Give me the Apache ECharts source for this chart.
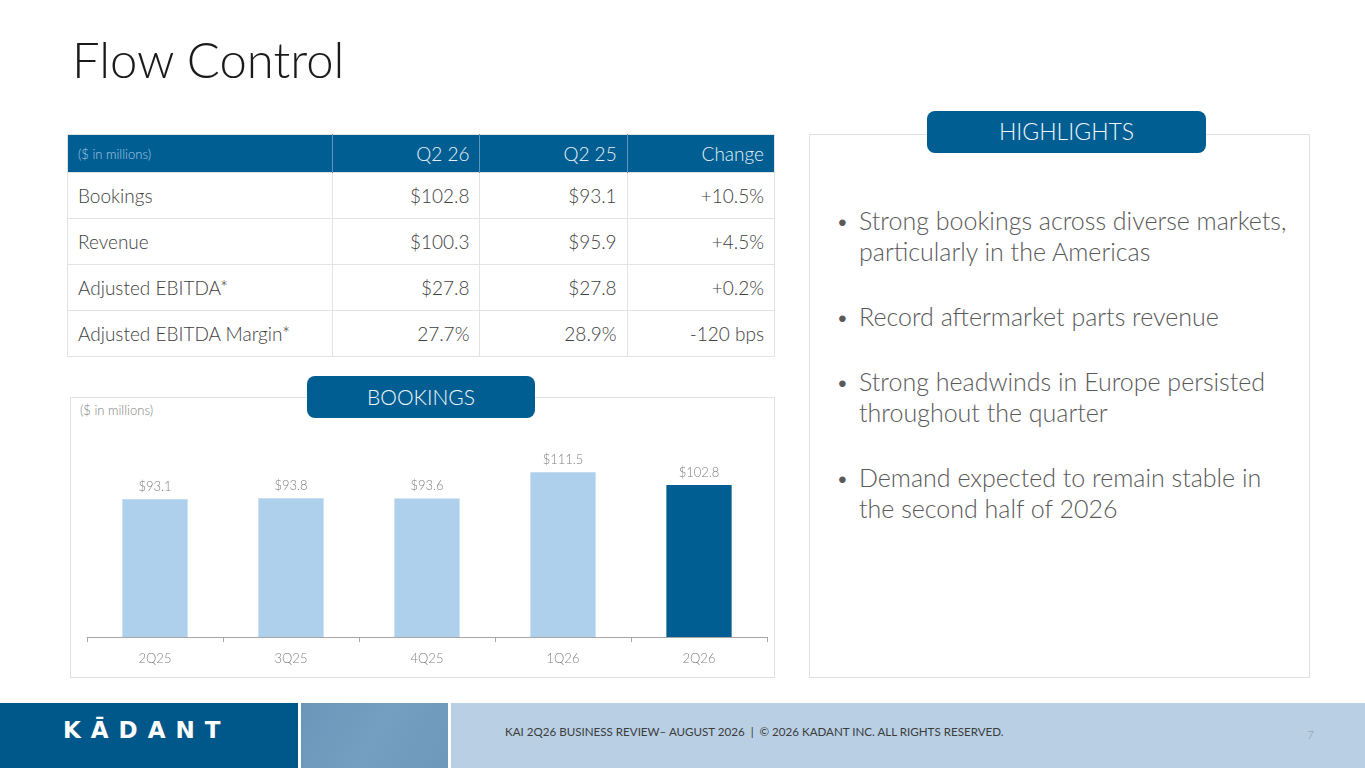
<!DOCTYPE html>
<html>
<head>
<meta charset="utf-8">
<title>Flow Control</title>
<script src="https://cdn.jsdelivr.net/npm/echarts@6/dist/echarts.min.js"></script>
<style>
    html, body { margin: 0; padding: 0; }
    body { width: 1365px; height: 768px; position: relative; overflow: hidden; background: #fff;
           font-family: "Lato", "Open Sans", sans-serif; font-weight: 300; color: #404040; }
    .title { position: absolute; left: 72px; top: 30px; font-size: 49px; font-weight: 300; color: #1a1a1a; }
    /* 财务表 */
    table.fin { position: absolute; left: 67px; top: 134px; width: 708px; border-collapse: collapse; border: 1px solid #e3e3e3; }
    table.fin th { background: #005e92; color: #e8f0f7; font-weight: 300; font-size: 19px; height: 37px; padding: 0 10px; text-align: right; border-left: 1px solid #5b93b9; }
    table.fin th:first-child { text-align: left; font-size: 13px; color: #a9cbe6; border-left: none; }
    table.fin td { font-size: 19px; height: 45px; padding: 0 10px; text-align: right; border-top: 1px solid #e3e3e3; border-left: 1px solid #e3e3e3; color: #404040; }
    table.fin td:first-child { text-align: left; border-left: none; }
    .box { position: absolute; border: 1px solid #e0e0e0; box-sizing: border-box; }
    .tab { position: absolute; background: #005e92; color: #f2f6fa; border-radius: 8px; text-align: center; font-size: 21px; }
    .note { position: absolute; font-size: 13px; color: #7f7f7f; }
    ul.hl { position: absolute; left: 836px; top: 205px; width: 470px; margin: 0; padding: 0; list-style: none; }
    ul.hl li { position: relative; padding-left: 23px; font-size: 25px; line-height: 31px; color: #595959; margin-bottom: 34px; white-space: nowrap; }
    ul.hl li:before { content: "\2022"; position: absolute; left: 0; top: 0; color: #595959; font-size: 22px; }
    .foot { position: absolute; top: 703px; height: 65px; }
</style>
</head>
<body>
<div class="title">Flow Control</div>

<table class="fin" id="finTable"></table>

<div class="box" style="left:70px; top:397px; width:705px; height:281px;"></div>
<div class="note" style="left:80px; top:402px;">($ in millions)</div>
<div id="chart" style="position:absolute; left:70px; top:397px; width:705px; height:281px;"></div>
<div class="tab" style="left:307px; top:376px; width:228px; height:42px; line-height:42px;">BOOKINGS</div>

<div class="box" style="left:809px; top:134px; width:501px; height:544px;"></div>
<div class="tab" style="left:927px; top:111px; width:279px; height:42px; line-height:40px; font-size:23px;">HIGHLIGHTS</div>
<ul class="hl" id="highlights"></ul>

<div class="foot" style="left:0; width:298px; background:#00578a;">
    <div style="position:absolute; left:63px; top:14px; color:#fff; font-family:'DejaVu Sans', sans-serif; font-weight:bold; font-size:23px; letter-spacing:10px;">KĀDANT</div>
</div>
<div class="foot" style="left:301px; width:147px; background:linear-gradient(120deg, #6b96b9 0%, #749fc0 50%, #6d98ba 100%);"></div>
<div class="foot" style="left:451px; width:914px; background:#b8cfe4;">
    <div style="position:absolute; left:54px; top:22px; font-size:11.6px; font-weight:400; color:#3c3c3c;">KAI 2Q26 BUSINESS REVIEW– AUGUST 2026 &nbsp;| &nbsp;© 2026 KADANT INC. ALL RIGHTS RESERVED.</div>
    <div style="position:absolute; left:856px; top:24px; font-size:12px; color:#8a9bab;">7</div>
</div>

<script>
// 表格数据
var tableHeader = ['($ in millions)', 'Q2 26', 'Q2 25', 'Change'];
var rowLabels = ['Bookings', 'Revenue', 'Adjusted EBITDA*', 'Adjusted EBITDA Margin*'];
var q226 = ['$102.8', '$100.3', '$27.8', '27.7%'];
var q225 = ['$93.1', '$95.9', '$27.8', '28.9%'];
var changes = ['+10.5%', '+4.5%', '+0.2%', '-120 bps'];

// 柱状图数据
var quarters = ['2Q25', '3Q25', '4Q25', '1Q26', '2Q26'];
var bookings = [93.1, 93.8, 93.6, 111.5, 102.8];

// 要点（按原图换行）
var highlights = [
    ['Strong bookings across diverse markets,', 'particularly in the Americas'],
    ['Record aftermarket parts revenue'],
    ['Strong headwinds in Europe persisted', 'throughout the quarter'],
    ['Demand expected to remain stable in', 'the second half of 2026']
];

// 生成表格
var html = [];
html.push('<tr>');
for (var i = 0; i < tableHeader.length; i++) {
    html.push('<th style="width:' + (i == 0 ? 246 : 127) + 'px">' + tableHeader[i] + '</th>');
}
html.push('</tr>');
for (var r = 0; r < rowLabels.length; r++) {
    html.push('<tr><td>' + rowLabels[r] + '</td><td>' + q226[r] + '</td><td>' + q225[r] + '</td><td>' + changes[r] + '</td></tr>');
}
document.getElementById('finTable').innerHTML = html.join('');

var li = [];
for (var h = 0; h < highlights.length; h++) {
    li.push('<li>' + highlights[h].join('<br>') + '</li>');
}
document.getElementById('highlights').innerHTML = li.join('');

var myChart = echarts.init(document.getElementById('chart'));
var option = {
    animation: false,
    grid: { left: 17, right: 8, top: 33, bottom: 41 },
    xAxis: {
        type: 'category',
        data: quarters,
        axisLine: { lineStyle: { color: '#a6a6a6', width: 1 } },
        axisTick: { show: true, length: 5, lineStyle: { color: '#a6a6a6' } },
        axisLabel: { color: '#7f7f7f', fontSize: 13, margin: 15, fontFamily: 'Lato', fontWeight: 300 }
    },
    yAxis: {
        type: 'value',
        min: 0,
        max: 140,
        show: false,
        splitLine: { show: false }
    },
    series: [{
        type: 'bar',
        data: bookings,
        barWidth: '48%',
        itemStyle: {
            color: function (p) {
                // 当前季度用深色
                return p.dataIndex == bookings.length - 1 ? '#005e92' : '#afd0ec';
            }
        },
        label: {
            show: true,
            position: 'top',
            distance: 6,
            color: '#7f7f7f',
            fontSize: 13,
            fontFamily: 'Lato',
            fontWeight: 300,
            formatter: function (p) { return '$' + p.value.toFixed(1); }
        }
    }]
};
myChart.setOption(option);
</script>
</body>
</html>
